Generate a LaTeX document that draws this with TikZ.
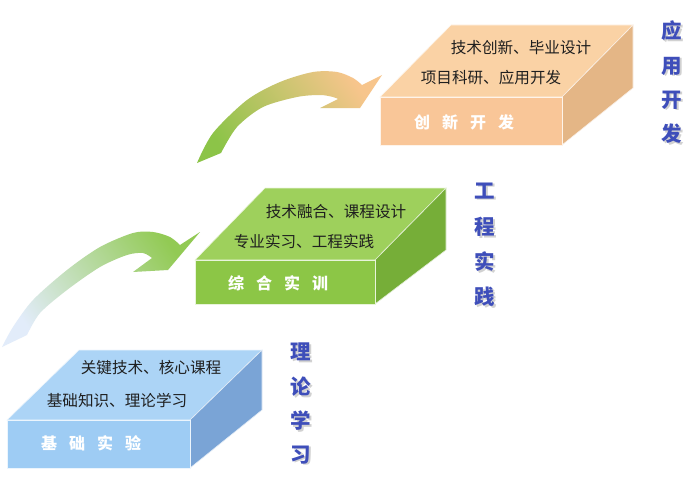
\documentclass[tikz,border=0pt]{standalone}
\usepackage{fontspec}
\newfontfamily\cjk{Noto Sans CJK SC}
\definecolor{labelblue}{RGB}{62,78,186}
\definecolor{btop}{RGB}{172,212,246}
\definecolor{bfront}{RGB}{158,204,244}
\definecolor{bside}{RGB}{122,164,214}
\definecolor{gtop}{RGB}{158,208,92}
\definecolor{gfront}{RGB}{140,198,70}
\definecolor{gside}{RGB}{118,174,56}
\definecolor{otop}{RGB}{250,210,165}
\definecolor{ofront}{RGB}{249,198,152}
\definecolor{oside}{RGB}{228,182,134}
\definecolor{arrblue}{RGB}{226,236,250}
\definecolor{arrgreen}{RGB}{146,202,84}
\definecolor{arrgreen2}{RGB}{140,196,72}
\definecolor{arrorange}{RGB}{247,197,140}
\begin{document}
\begin{tikzpicture}[x=1pt,y=-1pt,
  toptext/.style={font=\cjk\fontsize{15.6}{15.6}\selectfont, text=black!88, inner sep=0pt},
  fronttext/.style={font=\cjk\bfseries\fontsize{16}{16}\selectfont, text=white, inner sep=0pt},
  sidelabel/.style={font=\cjk\bfseries\fontsize{20.5}{20.5}\selectfont, text=labelblue, inner sep=0pt},
  face/.style={draw=white!80!#1, line width=0.6pt, fill=#1}]
\useasboundingbox (0,0) rectangle (700,492);
\fill[white] (0,0) rectangle (700,492);

% ---------- arrows ----------
\shade[top color=arrgreen, bottom color=arrblue, shading angle=-55]
  plot[smooth] coordinates {(2,347) (13,327) (33,300) (67,270) (100,247) (133,233) (153,232) (170,237) (180,245)}
  -- (200,232) -- (168,270) -- (133,272) -- (152,258)
  -- plot[smooth] coordinates {(152,258) (143,253) (127,255) (100,267) (67,290) (40,313) (27,335)}
  -- cycle;
\shade[top color=arrorange, bottom color=arrgreen2, shading angle=-55]
  plot[smooth] coordinates {(197,163) (213,133) (247,100) (280,82) (313,72) (337,72) (353,78) (362,85)}
  -- (382,75) -- (360,108) -- (320,108) -- (338,99)
  -- plot[smooth] coordinates {(338,99) (333,97) (320,95) (297,97) (263,107) (237,127) (221,153)}
  -- cycle;

% ---------- blue slab ----------
\coordinate (b1) at (7,420);   \coordinate (b2) at (190,420);
\coordinate (b3) at (190,468); \coordinate (b4) at (7,468);
\coordinate (b5) at (262,350); \coordinate (b6) at (79,350);
\coordinate (b7) at (262,410);
\path[face=btop] (b1) -- (b2) -- (b5) -- (b6) -- cycle;
\path[face=bside] (b2) -- (b5) -- (b7) -- (b3) -- cycle;
\path[face=bfront] (b1) -- (b2) -- (b3) -- (b4) -- cycle;

% ---------- green slab ----------
\coordinate (g1) at (195,260); \coordinate (g2) at (375,260);
\coordinate (g3) at (375,304); \coordinate (g4) at (195,304);
\coordinate (g5) at (446,188); \coordinate (g6) at (265,188);
\coordinate (g7) at (446,250);
\path[face=gtop] (g1) -- (g2) -- (g5) -- (g6) -- cycle;
\path[face=gside] (g2) -- (g5) -- (g7) -- (g3) -- cycle;
\path[face=gfront] (g1) -- (g2) -- (g3) -- (g4) -- cycle;

% ---------- orange slab ----------
\coordinate (o1) at (380,97);  \coordinate (o2) at (562,97);
\coordinate (o3) at (562,145); \coordinate (o4) at (380,145);
\coordinate (o5) at (633,25);  \coordinate (o6) at (451,25);
\coordinate (o7) at (633,88);
\path[face=otop] (o1) -- (o2) -- (o5) -- (o6) -- cycle;
\path[face=oside] (o2) -- (o5) -- (o7) -- (o3) -- cycle;
\path[face=ofront] (o1) -- (o2) -- (o3) -- (o4) -- cycle;

% ---------- texts ----------
\node[toptext] (bt1) at (151,368) {关键技术、核心课程};
\node[toptext] (bt2) at (117,400) {基础知识、理论学习};
\node[fronttext] (bf) at (91,443) {基\hspace{12pt}础\hspace{12pt}实\hspace{12pt}验};

\node[toptext] (gt1) at (336,212) {技术融合、课程设计};
\node[toptext] (gt2) at (304,242) {专业实习、工程实践};
\node[fronttext] (gf) at (278,283) {综\hspace{12pt}合\hspace{12pt}实\hspace{12pt}训};

\node[toptext] (ot1) at (521,48) {技术创新、毕业设计};
\node[toptext] (ot2) at (491,78) {项目科研、应用开发};
\node[fronttext] (of) at (464,122) {创\hspace{12pt}新\hspace{12pt}开\hspace{12pt}发};

% ---------- side labels ----------
\foreach \ch/\yy [count=\i] in {理/352,论/387,学/421,习/455}{
  \node[sidelabel, text=black!18] at (302.5,\yy+1.5) {\ch};
  \node[sidelabel] (l\i) at (301,\yy) {\ch};
}
\foreach \ch/\yy [count=\i] in {工/191,程/227,实/262,践/297}{
  \node[sidelabel, text=black!18] at (486.5,\yy+1.5) {\ch};
  \node[sidelabel] (m\i) at (485,\yy) {\ch};
}
\foreach \ch/\yy [count=\i] in {应/31,用/66,开/100,发/134}{
  \node[sidelabel, text=black!18] at (673.5,\yy+1.5) {\ch};
  \node[sidelabel] (n\i) at (672,\yy) {\ch};
}
\end{tikzpicture}
\end{document}
